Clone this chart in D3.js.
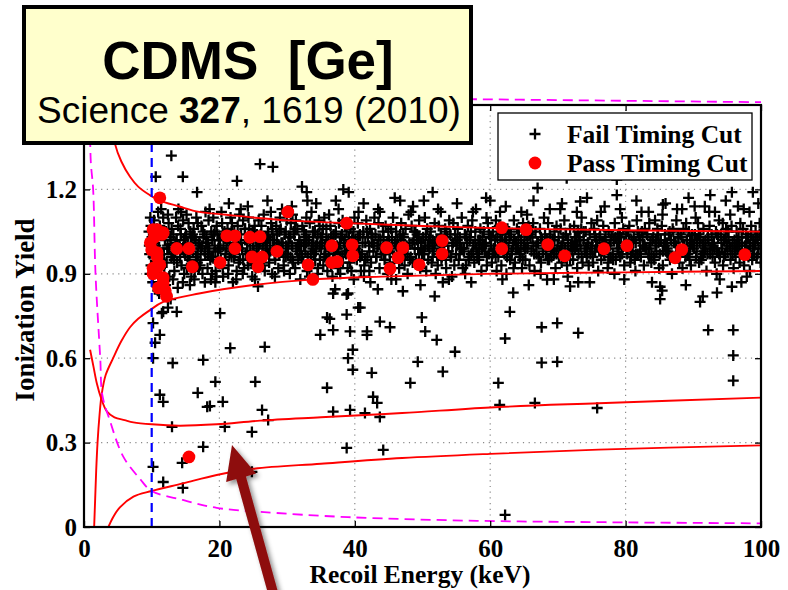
<!DOCTYPE html>
<html>
<head>
<meta charset="utf-8">
<script src="https://cdn.jsdelivr.net/npm/d3@7"></script>
<style>
body { margin: 0; background: #fff; }
svg { display: block; }
</style>
</head>
<body>
<svg id="chart" width="788" height="590"></svg>
<script>
// ---- data (recoil energy keV, ionization yield) ----
var xTicks = [0, 20, 40, 60, 80, 100];
var yTicks = [0, 0.3, 0.6, 0.9, 1.2];
var threshold = 10;

var erUpper = [[3.8,1.5],[4.6,1.36],[5.5,1.3],[6.8,1.245],[8,1.21],[9.7,1.18],[11.2,1.16],[14,1.14],[17,1.12],[21,1.11],[25,1.1],[30,1.09],[39,1.08],[50,1.07],[60,1.063],[70,1.058],[80,1.055],[90,1.052],[100,1.05]];
var erLower = [[1.5,0],[1.65,0.1],[1.8,0.2],[2.0,0.3],[2.3,0.4],[2.6,0.47],[3.2,0.54],[4.3,0.6],[5.5,0.66],[6.8,0.71],[8,0.74],[9.7,0.77],[11.7,0.8],[17,0.83],[25,0.86],[34,0.88],[44,0.89],[60,0.9],[80,0.905],[100,0.91]];
var nrUpper = [[0.9,0.63],[1.4,0.57],[1.9,0.51],[2.5,0.46],[3.4,0.41],[4.5,0.39],[6,0.38],[7.3,0.372],[10,0.365],[14,0.36],[19.6,0.365],[26,0.378],[35,0.39],[47,0.405],[60,0.425],[76,0.44],[100,0.46]];
var nrLower = [[3.6,0],[4.3,0.035],[5.3,0.07],[7.3,0.108],[10,0.128],[14.6,0.155],[19.6,0.185],[25,0.207],[35,0.225],[47,0.245],[60,0.26],[76,0.275],[100,0.29]];
var noiseCut = [[0.85,1.5],[1.0,1.3],[1.35,1.2],[1.7,0.9],[2.4,0.6],[2.7,0.47],[3.8,0.38],[5.8,0.25],[8.3,0.17],[10,0.128],[14.6,0.096],[19.6,0.068],[26,0.054],[39,0.035],[58,0.022],[77,0.017],[100,0.013]];
var noiseTop = [[40,1.525],[60,1.52],[80,1.515],[100,1.51]];

var failBand = [
[9.6,1.05],[9.7,0.97],[9.8,1.1],[9.9,0.93],[9.65,1.0],[9.85,1.02],[9.75,0.9],[9.9,1.07],
[10.05,1.03],[10.2,0.96],[10.35,1.09],[10.5,0.91],[10.6,1.0],[10.75,1.06],[10.85,0.94],[10.95,1.12],[10.15,0.87],[10.45,1.01],[10.7,0.98],[10.9,0.84],
[11.05,0.99],[11.2,1.07],[11.3,0.92],[11.45,1.04],[11.6,0.88],[11.7,1.1],[11.8,0.97],[11.95,1.02],[11.1,0.83],[11.4,1.13],[11.55,0.95],[11.85,0.9],
[12.1,1.05],[12.2,0.94],[12.35,1.0],[12.5,1.08],[12.6,0.89],[12.75,1.03],[12.9,0.96],[12.05,0.86],[12.4,1.11],[12.55,0.99],[12.8,0.81],[12.95,1.06],
[13.05,0.97],[13.2,1.04],[13.35,0.91],[13.5,1.01],[13.6,1.1],[13.75,0.94],[13.9,1.07],[13.15,0.88],[13.45,0.98],[13.7,1.02],[13.85,0.85],[13.95,1.13],
[14.1,1.0],[14.25,1.06],[14.4,0.93],[14.5,0.99],[14.65,1.09],[14.8,0.9],[14.95,1.03],[14.2,0.96],[14.35,1.12],[14.6,0.87],[14.75,1.02],[14.9,0.97],
[15.05,1.04],[15.2,0.92],[15.3,1.01],[15.45,1.08],[15.6,0.95],[15.7,1.05],[15.85,0.89],[15.95,0.99],[15.15,1.11],[15.4,0.97],[15.65,0.86],[15.9,1.03],
[16.1,0.98],[16.2,1.06],[16.35,0.91],[16.5,1.02],[16.6,1.1],[16.75,0.94],[16.9,1.0],[16.05,1.04],[16.3,0.88],[16.55,0.96],[16.8,1.08],[16.95,0.92],
[17.05,1.01],[17.2,0.95],[17.35,1.07],[17.5,0.9],[17.65,1.03],[17.8,0.98],[17.95,1.12],[17.15,0.93],[17.4,1.0],[17.6,1.05],[17.85,0.87],[17.9,0.97],
[18.1,1.03],[18.25,0.92],[18.4,1.09],[18.5,0.99],[18.65,0.95],[18.8,1.05],[18.9,0.9],[18.05,1.01],[18.3,0.97],[18.55,1.13],[18.75,0.88],[18.95,1.02],
[19.05,0.96],[19.2,1.04],[19.3,1.0],[19.45,0.91],[19.6,1.07],[19.75,0.94],[19.9,1.02],[19.1,1.1],[19.4,0.98],[19.55,0.89],[19.7,1.04],[19.85,0.99],
[20.1,1.02],[20.2,0.95],[20.4,1.08],[20.5,0.92],[20.6,1.0],[20.75,1.05],[20.9,0.97],[20.3,1.12],[20.55,0.89],[20.85,1.03],
[21.05,0.99],[21.2,1.06],[21.35,0.93],[21.5,1.01],[21.65,1.1],[21.8,0.96],[21.95,1.04],[21.3,0.9],[21.6,0.98],[21.85,1.08],
[22.1,1.03],[22.25,0.97],[22.4,1.0],[22.55,0.91],[22.7,1.07],[22.85,0.94],[22.95,1.11],[22.2,1.05],[22.5,0.88],[22.8,1.01],
[23.05,0.95],[23.2,1.04],[23.35,0.99],[23.5,1.09],[23.65,0.92],[23.8,1.02],[23.9,0.97],[23.15,1.13],[23.45,0.9],[23.75,1.06],
[24.1,1.01],[24.25,0.93],[24.4,1.06],[24.55,0.98],[24.7,1.03],[24.85,0.89],[24.95,1.0],[24.3,1.1],[24.6,0.95],[24.9,1.05],
[25.05,0.98],[25.2,1.07],[25.35,0.92],[25.5,1.02],[25.65,0.96],[25.8,1.09],[25.95,1.01],[25.25,0.88],[25.55,1.04],[25.85,0.94],
[26.1,1.04],[26.25,0.96],[26.4,1.0],[26.55,1.11],[26.7,0.91],[26.85,1.03],[26.95,0.98],[26.2,1.07],[26.5,0.93],[26.8,1.01],
[27.05,0.99],[27.2,1.05],[27.35,0.94],[27.5,1.02],[27.65,1.08],[27.8,0.9],[27.95,1.0],[27.3,0.97],[27.6,1.12],[27.85,1.04],
[28.1,1.02],[28.25,0.95],[28.4,1.07],[28.55,0.99],[28.7,0.92],[28.85,1.05],[28.95,1.1],[28.2,0.89],[28.5,1.01],[28.8,0.97],
[29.05,1.06],[29.2,0.98],[29.35,1.01],[29.5,0.93],[29.65,1.04],[29.8,0.96],[29.95,1.09],[29.25,1.13],[29.55,0.91],[29.85,1.0],
[30.1,0.97],[30.25,1.03],[30.4,0.9],[30.55,1.08],[30.7,1.0],[30.85,0.94],[30.95,1.05],[30.2,1.01],[30.5,0.96],[30.8,1.11],
[31.05,1.04],[31.2,0.92],[31.35,0.99],[31.5,1.06],[31.65,0.95],[31.8,1.02],[31.95,0.88],[31.3,1.09],[31.6,1.0],[31.85,0.97],
[32.1,1.0],[32.25,1.07],[32.4,0.94],[32.55,1.03],[32.7,0.98],[32.85,1.1],[32.95,0.91],[32.2,0.96],[32.5,1.05],[32.8,1.01],
[33.05,0.96],[33.2,1.02],[33.35,1.08],[33.5,0.93],[33.65,1.0],[33.8,1.05],[33.95,0.97],[33.3,0.89],[33.6,1.12],[33.85,1.03],
[34.1,1.05],[34.25,0.98],[34.4,1.01],[34.55,0.92],[34.7,1.09],[34.85,0.95],[34.95,1.03],[34.2,1.0],[34.5,0.9],[34.8,1.07],
[35.05,0.99],[35.2,1.04],[35.35,0.93],[35.5,1.1],[35.65,0.97],[35.8,1.02],[35.95,0.91],[35.3,1.06],[35.6,1.0],[35.85,0.95],
[36.1,1.02],[36.25,0.95],[36.4,1.07],[36.55,1.0],[36.7,0.89],[36.85,1.04],[36.95,0.98],[36.2,1.11],[36.5,0.93],[36.8,1.01],
[37.05,0.97],[37.2,1.05],[37.35,1.0],[37.5,0.92],[37.65,1.08],[37.8,0.96],[37.95,1.03],[37.3,0.99],[37.6,1.13],[37.85,0.9],
[38.1,1.04],[38.25,0.94],[38.4,1.01],[38.55,1.07],[38.7,0.97],[38.85,1.0],[38.95,0.92],[38.2,1.09],[38.5,0.98],[38.8,1.05],
[39.05,1.0],[39.2,0.96],[39.35,1.06],[39.5,0.91],[39.65,1.03],[39.8,0.99],[39.95,1.1],[39.3,0.94],[39.6,1.02],[39.85,0.88],
[40.1,1.02],[40.3,0.95],[40.45,1.08],[40.6,0.98],[40.75,1.04],[40.9,0.91],[40.2,1.0],[40.55,1.12],
[41.05,0.97],[41.25,1.05],[41.4,0.93],[41.55,1.01],[41.7,1.09],[41.85,0.96],[41.95,1.03],[41.35,0.89],
[42.1,1.0],[42.25,1.06],[42.4,0.94],[42.6,1.03],[42.75,0.98],[42.9,1.1],[42.15,0.91],[42.5,1.01],
[43.05,1.04],[43.2,0.96],[43.35,1.0],[43.5,1.08],[43.65,0.92],[43.8,1.02],[43.95,0.97],[43.45,1.13],
[44.1,0.99],[44.25,1.03],[44.4,0.95],[44.55,1.07],[44.7,1.0],[44.85,0.9],[44.95,1.05],[44.3,0.97],
[45.05,1.02],[45.2,0.94],[45.35,1.06],[45.5,0.99],[45.65,1.1],[45.8,0.96],[45.95,1.01],[45.4,0.88],
[46.1,1.05],[46.25,0.97],[46.4,1.0],[46.55,0.92],[46.7,1.04],[46.85,1.08],[46.95,0.95],[46.3,1.02],
[47.05,0.98],[47.2,1.03],[47.35,0.93],[47.5,1.06],[47.65,1.0],[47.8,0.9],[47.95,1.11],[47.45,0.97],
[48.1,1.01],[48.25,0.96],[48.4,1.07],[48.55,0.94],[48.7,1.02],[48.85,0.99],[48.95,1.05],[48.3,1.12],
[49.05,0.95],[49.2,1.04],[49.35,0.99],[49.5,1.09],[49.65,0.92],[49.8,1.01],[49.95,0.97],[49.45,1.03],
[50.1,1.03],[50.25,0.97],[50.4,1.0],[50.55,0.91],[50.7,1.06],[50.85,0.95],[50.95,1.02],[50.35,1.1],
[51.05,0.99],[51.2,1.05],[51.35,0.94],[51.5,1.02],[51.65,0.98],[51.8,1.08],[51.95,0.9],[51.45,1.0],
[52.1,1.02],[52.25,0.93],[52.4,1.07],[52.55,0.99],[52.7,1.04],[52.85,0.96],[52.95,1.0],[52.3,1.13],
[53.05,0.97],[53.2,1.01],[53.35,1.06],[53.5,0.92],[53.65,1.03],[53.8,0.98],[53.95,1.09],[53.45,0.95],
[54.1,1.04],[54.25,0.96],[54.4,1.0],[54.55,1.08],[54.7,0.93],[54.85,1.02],[54.95,0.97],[54.35,0.89],
[55.05,1.0],[55.2,1.06],[55.35,0.95],[55.5,1.03],[55.65,0.99],[55.8,1.1],[55.95,0.92],[55.45,1.01],
[56.1,0.98],[56.25,1.04],[56.4,0.93],[56.55,1.01],[56.7,1.07],[56.85,0.96],[56.95,1.02],[56.3,0.9],
[57.05,1.03],[57.2,0.97],[57.35,1.09],[57.5,1.0],[57.65,0.94],[57.8,1.05],[57.95,0.99],[57.45,1.12],
[58.1,0.96],[58.25,1.02],[58.4,0.99],[58.55,1.06],[58.7,0.91],[58.85,1.03],[58.95,1.0],[58.35,0.95],
[59.05,1.05],[59.2,0.98],[59.35,1.01],[59.5,0.93],[59.65,1.08],[59.8,0.97],[59.95,1.03],[59.45,1.1],
[60.1,1.0],[60.25,0.94],[60.4,1.05],[60.55,0.98],[60.7,1.02],[60.85,1.09],[60.95,0.91],[60.35,0.97],
[61.05,1.03],[61.2,0.96],[61.35,1.07],[61.5,1.0],[61.65,0.93],[61.8,1.04],[61.95,0.98],[61.45,1.12],
[62.1,0.97],[62.25,1.02],[62.4,0.9],[62.55,1.06],[62.7,0.99],[62.85,1.03],[62.95,0.95],[62.35,1.01],
[63.05,1.04],[63.2,0.98],[63.35,1.0],[63.5,1.09],[63.65,0.94],[63.8,1.01],[63.95,1.06],[63.45,0.92],
[64.1,0.99],[64.25,1.05],[64.4,0.96],[64.55,1.02],[64.7,0.92],[64.85,1.08],[64.95,1.0],[64.35,0.97],
[65.05,1.02],[65.2,0.95],[65.35,1.04],[65.5,0.99],[65.65,1.07],[65.8,0.93],[65.95,1.03],[65.45,1.11],
[66.1,0.98],[66.25,1.03],[66.4,1.0],[66.55,0.91],[66.7,1.05],[66.85,0.97],[66.95,1.01],[66.35,1.08],
[67.05,1.01],[67.2,0.96],[67.35,1.06],[67.5,0.94],[67.65,1.02],[67.8,0.99],[67.95,1.1],[67.45,0.9],
[68.1,1.04],[68.25,0.97],[68.4,1.0],[68.55,1.08],[68.7,0.95],[68.85,1.03],[68.95,0.98],[68.35,1.02],
[69.05,0.96],[69.2,1.02],[69.35,0.99],[69.5,1.05],[69.65,0.92],[69.8,1.07],[69.95,1.0],[69.45,0.97],
[70.1,1.03],[70.25,0.98],[70.4,1.06],[70.55,0.94],[70.7,1.01],[70.85,0.96],[70.95,1.09],[70.35,1.13],
[71.05,0.99],[71.2,1.04],[71.35,0.93],[71.5,1.02],[71.65,0.97],[71.8,1.06],[71.95,1.0],[71.45,0.89],
[72.1,1.01],[72.25,0.95],[72.4,1.07],[72.55,0.99],[72.7,1.03],[72.85,0.92],[72.95,1.05],[72.35,1.0],
[73.05,0.97],[73.2,1.03],[73.35,1.0],[73.5,1.1],[73.65,0.94],[73.8,1.02],[73.95,0.98],[73.45,1.06],
[74.1,1.05],[74.25,0.96],[74.4,1.01],[74.55,0.93],[74.7,1.04],[74.85,0.99],[74.95,1.08],[74.35,0.97],
[75.05,1.0],[75.2,0.94],[75.35,1.06],[75.5,0.98],[75.65,1.02],[75.8,1.09],[75.95,0.91],[75.45,1.03],
[76.1,0.98],[76.25,1.04],[76.4,0.95],[76.55,1.01],[76.7,1.07],[76.85,0.97],[76.95,1.02],[76.35,1.12],
[77.05,1.03],[77.2,0.99],[77.35,0.92],[77.5,1.05],[77.65,1.0],[77.8,0.96],[77.95,1.04],[77.45,0.94],
[78.1,0.97],[78.25,1.02],[78.4,1.08],[78.55,0.95],[78.7,1.01],[78.85,1.04],[78.95,0.98],[78.35,0.9],
[79.05,1.01],[79.2,0.96],[79.35,1.03],[79.5,0.99],[79.65,1.06],[79.8,0.93],[79.95,1.0],[79.45,1.1],
[80.1,1.04],[80.25,0.97],[80.4,1.0],[80.55,1.07],[80.7,0.94],[80.85,1.02],[80.95,0.98],[80.35,1.05],
[81.05,0.98],[81.2,1.03],[81.35,0.95],[81.5,1.01],[81.65,1.09],[81.8,0.97],[81.95,1.04],[81.45,0.91],
[82.1,1.02],[82.25,0.96],[82.4,1.05],[82.55,1.0],[82.7,0.93],[82.85,1.06],[82.95,0.99],[82.35,1.12],
[83.05,0.99],[83.2,1.04],[83.35,0.97],[83.5,1.08],[83.65,1.01],[83.8,0.94],[83.95,1.02],[83.45,0.96],
[84.1,1.03],[84.25,0.95],[84.4,1.0],[84.55,0.98],[84.7,1.06],[84.85,1.01],[84.95,0.92],[84.35,1.09],
[85.05,0.97],[85.2,1.02],[85.35,1.07],[85.5,0.93],[85.65,1.0],[85.8,1.04],[85.95,0.98],[85.45,1.11],
[86.1,1.01],[86.25,0.98],[86.4,1.04],[86.55,0.95],[86.7,1.02],[86.85,0.9],[86.95,1.06],[86.35,0.97],
[87.05,1.05],[87.2,0.96],[87.35,1.01],[87.5,1.09],[87.65,0.97],[87.8,1.03],[87.95,0.94],[87.45,1.0],
[88.1,0.98],[88.25,1.03],[88.4,0.92],[88.55,1.06],[88.7,1.0],[88.85,0.96],[88.95,1.08],[88.35,1.13],
[89.05,1.02],[89.2,0.97],[89.35,1.05],[89.5,0.99],[89.65,0.93],[89.8,1.04],[89.95,1.0],[89.45,0.95],
[90.1,0.99],[90.25,1.04],[90.4,0.96],[90.55,1.02],[90.7,1.08],[90.85,0.94],[90.95,1.01],[90.35,1.1],
[91.05,1.03],[91.2,0.95],[91.35,1.0],[91.5,1.06],[91.65,0.98],[91.8,1.02],[91.95,0.91],[91.45,0.97],
[92.1,0.97],[92.25,1.02],[92.4,1.07],[92.55,0.99],[92.7,1.04],[92.85,0.96],[92.95,1.0],[92.35,1.12],
[93.05,1.01],[93.2,0.94],[93.35,1.05],[93.5,0.98],[93.65,1.03],[93.8,1.09],[93.95,0.96],[93.45,0.9],
[94.1,1.04],[94.25,0.99],[94.4,0.93],[94.55,1.02],[94.7,0.97],[94.85,1.06],[94.95,1.0],[94.35,1.08],
[95.05,0.98],[95.2,1.03],[95.35,1.0],[95.5,0.95],[95.65,1.07],[95.8,1.01],[95.95,0.92],[95.45,1.11],
[96.1,1.02],[96.25,0.96],[96.4,1.05],[96.55,0.99],[96.7,1.03],[96.85,0.94],[96.95,1.08],[96.35,1.0],
[97.05,0.97],[97.2,1.01],[97.35,1.06],[97.5,0.93],[97.65,1.0],[97.8,1.04],[97.95,0.98],[97.45,1.13],
[98.1,1.03],[98.25,0.98],[98.4,1.0],[98.55,1.07],[98.7,0.95],[98.85,1.02],[98.95,0.97],[98.35,0.91],
[99.05,1.0],[99.2,1.05],[99.35,0.96],[99.5,1.02],[99.65,0.99],[99.8,1.08],[99.95,0.94],[99.45,1.03]
];

// extra events in the densest part of the band
var failCore = [
[10.3,1.0],[10.8,1.03],[11.3,0.97],[11.8,1.05],[12.3,0.99],[12.8,1.02],[13.3,0.95],[13.8,1.0],[14.3,1.04],[14.8,0.98],
[15.3,0.96],[15.8,1.01],[16.3,1.03],[16.8,0.97],[17.3,0.99],[17.8,1.04],[18.3,1.01],[18.8,0.96],[19.3,1.05],[19.8,0.98],
[20.15,0.99],[20.5,1.04],[20.8,0.95],[21.15,1.02],[21.5,0.97],[21.8,1.05],[22.15,0.96],[22.5,1.03],[22.8,0.99],
[23.15,1.01],[23.5,0.95],[23.8,1.06],[24.15,0.98],[24.5,1.02],[24.8,0.94],[25.15,1.05],[25.5,0.99],[25.8,1.0],
[26.15,0.95],[26.5,1.02],[26.8,0.97],[27.15,1.03],[27.5,0.98],[27.8,1.06],[28.15,0.97],[28.5,1.04],[28.8,1.0],
[29.15,1.01],[29.5,0.96],[29.8,1.05],[30.15,0.99],[30.5,1.03],[30.8,0.95],[31.15,1.06],[31.5,0.98],[31.8,1.01],
[32.15,0.96],[32.5,1.0],[32.8,1.04],[33.15,1.02],[33.5,0.97],[33.8,0.99],[34.15,0.95],[34.5,1.04],[34.8,1.0],
[35.15,1.01],[35.5,0.96],[35.8,1.06],[36.15,0.98],[36.5,1.03],[36.8,0.95],[37.15,1.04],[37.5,0.99],[37.8,1.01],
[38.15,0.96],[38.5,1.02],[38.8,0.98],[39.15,1.03],[39.5,0.97],[39.8,1.05],
[40.15,0.99],[40.5,1.03],[40.8,0.96],[41.15,1.01],[41.5,0.95],[41.8,1.05],[42.15,0.98],[42.5,1.04],[42.8,1.0],
[43.15,0.96],[43.5,1.02],[43.8,0.99],[44.15,1.05],[44.5,0.97],[44.8,1.01],[45.15,0.98],[45.5,1.03],[45.8,0.94],
[46.15,1.0],[46.5,0.96],[46.8,1.02],[47.15,1.04],[47.5,0.99],[47.8,0.97],[48.15,0.95],[48.5,1.01],[48.8,1.05],
[49.15,1.02],[49.5,0.97],[49.8,0.99],[50.15,0.98],[50.5,1.04],[50.8,1.0],[51.15,1.03],[51.5,0.96],[51.8,1.01],
[52.15,0.97],[52.5,1.02],[52.8,0.95],[53.15,1.0],[53.5,1.05],[53.8,0.98],[54.15,0.96],[54.5,1.01],[54.8,1.04],
[55.15,1.02],[55.5,0.97],[55.8,0.99],[56.15,0.99],[56.5,1.03],[56.8,0.95],[57.15,1.05],[57.5,0.98],[57.8,1.01],
[58.15,0.97],[58.5,1.02],[58.8,0.99],[59.15,1.0],[59.5,0.96],[59.8,1.04],[60.15,1.03],[60.5,0.99],[60.8,0.96],
[61.15,0.98],[61.5,1.04],[61.8,1.01],[62.15,1.01],[62.5,0.96],[62.8,1.05],[63.15,0.97],[63.5,1.02],[63.8,0.99],
[64.15,1.03],[64.5,0.98],[64.8,0.95],[65.15,0.99],[65.5,1.01],[65.8,1.04],[66.15,1.05],[66.5,0.97],[66.8,1.0],
[67.15,0.96],[67.5,1.03],[67.8,0.98],[68.15,1.01],[68.5,0.95],[68.8,1.04],[69.15,0.99],[69.5,1.02],[69.8,0.97],
[70.15,0.96],[70.5,1.0],[70.8,1.03],[71.15,1.04],[71.5,0.98],[71.8,0.95],[72.15,0.98],[72.5,1.03],[72.8,1.0],
[73.15,1.02],[73.5,0.96],[73.8,1.05],[74.15,0.99],[74.5,1.01],[74.8,0.97],[75.15,0.96],[75.5,1.04],[75.8,1.0],
[76.15,1.03],[76.5,0.98],[76.8,1.01],[77.15,1.0],[77.5,0.96],[77.8,1.02],[78.15,0.95],[78.5,1.03],[78.8,0.99],
[79.15,1.04],[79.5,0.97],[79.8,1.01],[80.15,0.99],[80.5,1.02],[80.8,0.96],[81.15,1.01],[81.5,0.97],[81.8,1.05],
[82.15,0.98],[82.5,1.03],[82.8,1.0],[83.15,1.04],[83.5,0.99],[83.8,0.97],[84.15,0.96],[84.5,1.02],[84.8,1.04],
[85.15,1.02],[85.5,0.98],[85.8,1.0],[86.15,0.99],[86.5,1.05],[86.8,0.96],[87.15,1.01],[87.5,0.97],[87.8,1.03],
[88.15,1.04],[88.5,1.0],[88.8,0.98],[89.15,0.97],[89.5,1.02],[89.8,1.01],[90.15,1.02],[90.5,0.98],[90.8,1.04],
[91.15,0.96],[91.5,1.01],[91.8,0.99],[92.15,1.03],[92.5,0.97],[92.8,1.0],[93.15,0.99],[93.5,1.04],[93.8,0.97],
[94.15,1.01],[94.5,0.96],[94.8,1.03],[95.15,1.05],[95.5,0.99],[95.8,0.97],[96.15,0.98],[96.5,1.02],[96.8,1.0],
[97.15,1.03],[97.5,0.97],[97.8,1.01],[98.15,0.96],[98.5,1.04],[98.8,0.99],[99.15,1.01],[99.5,0.97],[99.8,1.04]
];

// ragged edges of the band
var failFringe = [
[21.4,1.15],[24.2,1.14],[27.1,1.16],[30.7,1.14],[34.3,1.15],[37.2,1.16],
[41.3,1.15],[43.7,1.12],[45.9,1.17],[48.6,1.14],[50.2,1.16],[52.7,1.12],[55.1,1.15],[57.9,1.13],[59.4,1.17],[62.3,1.14],
[64.6,1.12],[66.4,1.16],[68.8,1.13],[70.6,1.15],[72.8,1.12],[74.3,1.17],[76.9,1.14],[79.2,1.13],[81.6,1.16],[83.4,1.12],
[85.9,1.15],[87.6,1.13],[89.3,1.17],[91.7,1.14],[93.2,1.12],[94.8,1.16],[96.6,1.14],[98.3,1.12],[99.6,1.15],
[42.3,0.87],[46.1,0.88],[49.7,0.86],[53.9,0.88],[57.2,0.87],[61.8,0.88],[65.7,0.86],[69.4,0.88],[74.7,0.87],[79.8,0.88],
[83.9,0.87],[88.9,0.86],[93.9,0.88],[97.1,0.87]
];

var failOutliers = [
[12.9,1.32],[10.6,1.245],[14.6,1.245],[16.7,1.19],[22.6,1.23],[26,1.29],[27.9,1.28],[32.2,1.21],[32.9,1.19],[33,1.16],
[38.3,1.2],[39.1,1.19],[46.7,1.16],[51.5,1.19],[60,1.16],[67,1.205],[71.3,1.24],[73.3,1.157],[78.7,1.18],[78.7,1.235],
[85.5,1.146],[90.2,1.14],[92.5,1.18],[95.7,1.19],[98.8,1.19],
[10.2,0.725],[11.2,0.683],[10.5,0.655],[10.2,0.6],[13.1,0.583],[11.5,0.76],[11.7,0.765],[12.4,0.78],[13.7,0.765],[20.1,0.76],
[19.4,0.87],[22,0.87],[25.7,0.855],[37.1,0.845],[38.8,0.826],[43.4,0.845],[47.1,0.838],[51.8,0.82],[53,0.87],[63.4,0.833],
[71.8,0.855],[73,0.87],[35.9,0.745],[38.8,0.755],[40.5,0.78],[43.7,0.73],[45.2,0.71],[49.9,0.745],[62.9,0.765],[67.6,0.71],
[69.9,0.725],[73,0.69],[34.9,0.683],[36.8,0.7],[39.3,0.695],[41.8,0.695],[41.8,0.683],[50.4,0.695],[52.1,0.665],[62.2,0.67],
[21.6,0.636],[26.7,0.64],[39.7,0.63],[39,0.6],[54.8,0.623],[17.6,0.594],[39.7,0.559],[42.5,0.548],[49.3,0.587],[53,0.552],
[67.6,0.584],[69.9,0.587],[19.4,0.516],[25.3,0.516],[35.9,0.495],[48.2,0.512],[61.2,0.512],[20.5,0.445],[18.2,0.427],[18.6,0.43],
[42.7,0.463],[43.3,0.441],[26.3,0.416],[27.2,0.38],[36.8,0.41],[39.3,0.416],[41.5,0.405],[43.7,0.391],[61.4,0.434],[66.6,0.441],
[75.8,0.423],[20.8,0.356],[24.8,0.338],[17.6,0.285],[38.8,0.281],[44.2,0.274],[24.8,0.196],[11.2,0.47],[11.7,0.445],[16.8,0.477],
[13,0.356],[14.5,0.228],[10.2,0.214],[11.7,0.16],[14.6,0.139],[62.2,0.043],[85.1,0.81],[85.4,0.84],[91.4,0.82],[91,0.8],
[93.5,0.833],[95.7,0.854],[97.9,0.89],[85.1,0.854],[68.4,0.879],[92.2,0.7],[95.9,0.61],[95.9,0.52],[95.9,0.7],[36.3,0.74],
[40.8,0.78],[36.8,0.83],[39,0.83]
];

var passCut = [
[11.2,1.17],[30.1,1.12],[38.8,1.08],[10.2,1.057],[11.7,1.046],[9.8,1.01],[10.8,0.975],[10.2,0.92],[11.2,0.932],[11.7,0.886],
[11.7,0.868],[12.2,0.82],[10.8,0.96],[10.9,0.925],[10.2,0.9],[10,0.985],[10.8,1.057],[11.5,1.04],[10.4,1.03],[11.0,0.85],[12.0,0.84],
[13.7,0.99],[15.5,0.99],[16,0.925],[21.1,1.035],[22.3,1.035],[22.3,0.99],[24.5,1.03],[26,1.032],[20.1,0.94],
[24.8,0.96],[26.3,0.96],[25.7,0.925],[28.5,0.98],[33.1,0.932],[33.8,0.88],[36.6,1.0],[36.6,0.94],[37.4,0.943],[39.6,1.003],
[39.7,0.964],[61.7,1.064],[65.3,1.057],[44.7,0.993],[47.1,0.993],[46.4,0.957],[45.2,0.918],[49.5,0.932],[52.9,1.018],[52.9,0.971],
[61.7,0.989],[68.5,1.004],[71,0.964],[76.8,0.989],[80.2,1.0],[87.3,0.957],[88.3,0.986],[97.6,0.968],[15.5,0.249]
];

// ---- drawing ----
var svg = d3.select("#chart");
var x = d3.scaleLinear().domain([0, 100]).range([84, 761]);
var y = d3.scaleLinear().domain([0, 1.5]).range([527, 105]);
var serif = "'Liberation Serif', 'Times New Roman', serif";
var sans = "'Liberation Sans', Arial, sans-serif";

svg.append("rect").attr("width", 788).attr("height", 590).attr("fill", "#fff");

var defs = svg.append("defs");
defs.append("clipPath").attr("id", "plotclip")
  .append("rect").attr("x", 84).attr("y", 105).attr("width", 677).attr("height", 422);
var shadow = defs.append("filter").attr("id", "shadow")
  .attr("x", "-50%").attr("y", "-50%").attr("width", "200%").attr("height", "200%");
shadow.append("feDropShadow").attr("dx", 3).attr("dy", 3).attr("stdDeviation", 2.5)
  .attr("flood-color", "#000").attr("flood-opacity", 0.45);

// dotted grid
var grid = svg.append("g");
grid.selectAll(".gx").data(xTicks.slice(1, -1)).enter().append("line")
  .attr("x1", function (d) { return x(d); }).attr("x2", function (d) { return x(d); })
  .attr("y1", y(0)).attr("y2", y(1.5));
grid.selectAll(".gy").data(yTicks.slice(1)).enter().append("line")
  .attr("y1", function (d) { return y(d); }).attr("y2", function (d) { return y(d); })
  .attr("x1", x(0)).attr("x2", x(100));
grid.selectAll("line").attr("stroke", "#8a8a8a").attr("stroke-width", 1.2)
  .attr("stroke-dasharray", "1.2,4.5");

var plot = svg.append("g").attr("clip-path", "url(#plotclip)");

// fail timing cut crosses
var cross = "M-5.5,0H5.5M0,-5.5V5.5";
var failAll = failBand.concat(failCore, failFringe, failOutliers);
plot.selectAll(".fail").data(failAll).enter().append("path")
  .attr("d", cross)
  .attr("transform", function (d) { return "translate(" + x(d[0]) + "," + y(d[1]) + ")"; })
  .attr("stroke", "#000").attr("stroke-width", 2.3).attr("fill", "none");

// band / cut curves
var line = d3.line()
  .x(function (d) { return x(d[0]); })
  .y(function (d) { return y(d[1]); })
  .curve(d3.curveCatmullRom.alpha(0.5));
[erUpper, erLower, nrUpper, nrLower].forEach(function (c) {
  plot.append("path").attr("d", line(c)).attr("fill", "none")
    .attr("stroke", "#ff0000").attr("stroke-width", 1.9);
});
plot.append("path").attr("d", line(noiseCut)).attr("fill", "none")
  .attr("stroke", "#ff00ff").attr("stroke-width", 1.8).attr("stroke-dasharray", "10,6");
svg.append("path").attr("d", line(noiseTop)).attr("fill", "none")
  .attr("stroke", "#ff00ff").attr("stroke-width", 1.8).attr("stroke-dasharray", "10,6");
plot.append("line")
  .attr("x1", x(threshold)).attr("x2", x(threshold)).attr("y1", y(0)).attr("y2", y(1.5))
  .attr("stroke", "#0000ff").attr("stroke-width", 2.2).attr("stroke-dasharray", "9,6");

// pass timing cut dots
plot.selectAll(".pass").data(passCut).enter().append("circle")
  .attr("cx", function (d) { return x(d[0]); })
  .attr("cy", function (d) { return y(d[1]); })
  .attr("r", 6.4).attr("fill", "#ff0000");

// axes with inward ticks on all four sides
function styleAxis(g) {
  g.select(".domain").remove();
  g.selectAll(".tick line").attr("stroke", "#000").attr("stroke-width", 1.3);
  g.selectAll(".tick text").attr("font-family", serif).attr("font-weight", "bold")
    .attr("font-size", 25).attr("fill", "#000");
}
svg.append("g").attr("transform", "translate(0," + y(0) + ")")
  .call(d3.axisBottom(x).tickValues(xTicks).tickSize(-6).tickPadding(12).tickFormat(d3.format("d")))
  .call(styleAxis);
svg.append("g").attr("transform", "translate(0," + y(1.5) + ")")
  .call(d3.axisTop(x).tickValues(xTicks).tickSize(-6).tickFormat(""))
  .call(styleAxis);
svg.append("g").attr("transform", "translate(" + x(0) + ",0)")
  .call(d3.axisLeft(y).tickValues(yTicks).tickSize(-6).tickPadding(7).tickFormat(function (d) { return d === 0 ? "0" : d3.format(".1f")(d); }))
  .call(styleAxis);
svg.append("g").attr("transform", "translate(" + x(100) + ",0)")
  .call(d3.axisRight(y).tickValues(yTicks).tickSize(-6).tickFormat(""))
  .call(styleAxis);

svg.append("rect").attr("x", x(0)).attr("y", y(1.5))
  .attr("width", x(100) - x(0)).attr("height", y(0) - y(1.5))
  .attr("fill", "none").attr("stroke", "#000").attr("stroke-width", 2.2);

// axis titles
svg.append("text").attr("x", 420).attr("y", 583).attr("text-anchor", "middle")
  .attr("font-family", serif).attr("font-weight", "bold").attr("font-size", 25.5)
  .text("Recoil Energy (keV)");
svg.append("text").attr("transform", "translate(34,310) rotate(-90)").attr("text-anchor", "middle")
  .attr("font-family", serif).attr("font-weight", "bold").attr("font-size", 27)
  .text("Ionization Yield");

// legend
var leg = svg.append("g");
leg.append("rect").attr("x", 498).attr("y", 113).attr("width", 254).attr("height", 67)
  .attr("fill", "#fff").attr("stroke", "#000").attr("stroke-width", 1.3);
leg.append("path").attr("d", cross).attr("transform", "translate(535,134)")
  .attr("stroke", "#000").attr("stroke-width", 2.3);
leg.append("circle").attr("cx", 535).attr("cy", 163).attr("r", 6.4).attr("fill", "#ff0000");
leg.append("text").attr("x", 567).attr("y", 143).text("Fail Timing Cut");
leg.append("text").attr("x", 567).attr("y", 172).text("Pass Timing Cut");
leg.selectAll("text").attr("font-family", serif).attr("font-weight", "bold").attr("font-size", 25.5);

// title box
var box = svg.append("g");
box.append("rect").attr("x", 24).attr("y", 7).attr("width", 447).attr("height", 136)
  .attr("fill", "#ffffcc").attr("stroke", "#000").attr("stroke-width", 4);
box.append("text").attr("x", 248).attr("y", 79).attr("text-anchor", "middle")
  .attr("font-family", sans).attr("font-weight", "bold")
  .attr("font-size", 53).attr("xml:space", "preserve").text("CDMS  [Ge]");
var sub = box.append("text").attr("x", 249).attr("y", 123).attr("text-anchor", "middle")
  .attr("font-family", sans).attr("font-size", 37);
sub.append("tspan").text("Science ");
sub.append("tspan").attr("font-weight", "bold").text("327");
sub.append("tspan").text(", 1619 (2010)");

// arrow annotation
var tip = [232, 445], tail = [275, 600];
var dx = tip[0] - tail[0], dy = tip[1] - tail[1], len = Math.sqrt(dx * dx + dy * dy);
var ux = dx / len, uy = dy / len, nx = -uy, ny = ux;
var headLen = 34, headHalf = 15.5, shaftHalf = 5;
var bx = tip[0] - ux * headLen, by = tip[1] - uy * headLen;
var pts = [
  tip,
  [bx + nx * headHalf, by + ny * headHalf],
  [bx + nx * shaftHalf, by + ny * shaftHalf],
  [tail[0] + nx * shaftHalf, tail[1] + ny * shaftHalf],
  [tail[0] - nx * shaftHalf, tail[1] - ny * shaftHalf],
  [bx - nx * shaftHalf, by - ny * shaftHalf],
  [bx - nx * headHalf, by - ny * headHalf]
];
svg.append("path").attr("d", "M" + pts.join("L") + "Z")
  .attr("fill", "#8e0b0b").attr("filter", "url(#shadow)");
</script>
</body>
</html>
